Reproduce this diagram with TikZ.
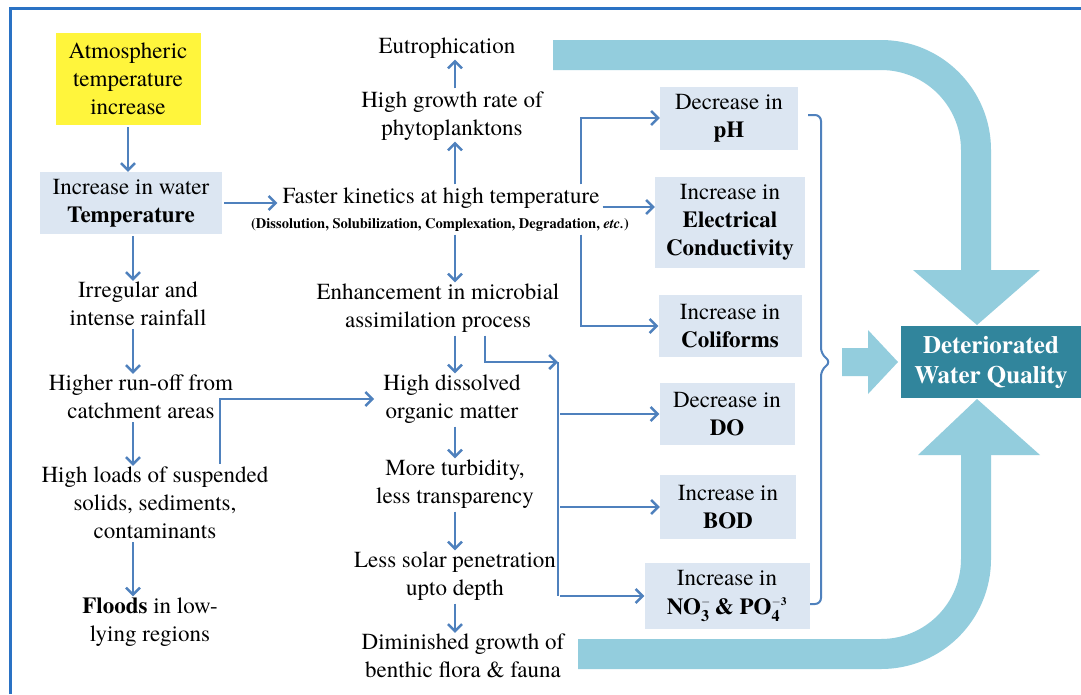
\documentclass[tikz,border=0pt]{standalone}
\usepackage{fontspec}
\setmainfont{TeX Gyre Termes}
\usetikzlibrary{arrows.meta,calc}
\definecolor{lineblue}{HTML}{4F81BD}
\definecolor{frameblue}{HTML}{2A72C4}
\definecolor{bandblue}{HTML}{93CDDD}
\definecolor{boxfill}{HTML}{DCE6F2}
\definecolor{deep}{HTML}{31859C}
\definecolor{yellowbox}{RGB}{255,245,60}
\newcommand{\mainsz}{\fontsize{23}{28}\selectfont}
\begin{document}
\begin{tikzpicture}[x=1pt,y=-1pt,
  txt/.style={align=center,inner sep=1pt,font=\mainsz},
  box/.style={txt,fill=boxfill,inner sep=0pt},
  arr/.style={draw=lineblue,line width=2.5pt,shorten <=2pt,-{Straight Barb[length=7pt,width=14pt,line width=2.5pt]}},
  ln/.style={draw=lineblue,line width=2.5pt},
  band/.style={draw=bandblue,line width=30pt,rounded corners=95pt}]
\useasboundingbox (0,0) rectangle (1081,694);
\fill[white] (0,0) rectangle (1081,694);
% frame
\draw[frameblue,line width=3pt] (10,694) -- (10,8) -- (1081,8);

% big bands
\draw[band] (553,55) -- (976,55) -- (976,272);
\fill[bandblue] (913,270) -- (1040,270) -- (977,325) -- cycle;
\draw[band] (578,654) -- (976,654) -- (976,453);
\fill[bandblue] (918,455) -- (1040,455) -- (977,399) -- cycle;
\fill[bandblue] (842,348) -- (868,348) -- (868,330) -- (898,362) -- (868,394) -- (868,376) -- (842,376) -- cycle;

% left column
\node[box,fill=yellowbox,minimum width=145,minimum height=92] (atm) at (128,79) {Atmospheric\\temperature\\increase};
\node[box,minimum width=182,minimum height=62] (itemp) at (131,203) {Increase in water\\\textbf{Temperature}};
\node[txt] (rain) at (138,304) {Irregular and\\intense rainfall};
\node[txt] (runoff) at (141,397) {Higher run-off from\\catchment areas};
\node[txt] (loads) at (155,503) {High loads of suspended\\solids, sediments,\\contaminants};
\node[txt] (floods) at (150,622) {\textbf{Floods} in low-\\lying regions};

% middle column
\node[txt] (eut) at (447,48) {Eutrophication};
\node[txt] (growth) at (452,116) {High growth rate of\\phytoplanktons};
\node[txt] (faster) at (441,198) {Faster kinetics at high temperature};
\node[txt,font={\fontsize{14.5}{17}\selectfont\bfseries}] (fsub) at (440,225) {(Dissolution, Solubilization, Complexation, Degradation, \textit{etc.})};
\node[txt] (enh) at (438,308) {Enhancement in microbial\\assimilation process};
\node[txt] (hdom) at (452,399) {High dissolved\\organic matter};
\node[txt] (turb) at (455,484) {More turbidity,\\less transparency};
\node[txt] (solar) at (455,576) {Less solar penetration\\upto depth};
\node[txt] (dimin) at (463,656) {Diminished growth of\\benthic flora \& fauna};

% right boxes
\node[box,minimum width=138,minimum height=63] (ph) at (729,118) {Decrease in\\\textbf{pH}};
\node[box,minimum width=150,minimum height=91] (ec) at (730,222) {Increase in\\\textbf{Electrical}\\\textbf{Conductivity}};
\node[box,minimum width=143,minimum height=62] (col) at (730,326) {Increase in\\\textbf{Coliforms}};
\node[box,minimum width=135,minimum height=62] (do) at (727,414) {Decrease in\\\textbf{DO}};
\node[box,minimum width=136,minimum height=64] (bod) at (728,507) {Increase in\\\textbf{BOD}};
\node[box,minimum width=165,minimum height=66] (no3) at (727,596) {Increase in\\[1pt]\textbf{NO}$_{\mathbf{3}}^{\scriptscriptstyle -}$\,\textbf{\& PO}$_{\mathbf{4}}^{\scriptscriptstyle -\mathbf{3}}$};

\node[fill=deep,text=white,font={\fontsize{25}{30}\selectfont\bfseries},align=center,minimum width=180,minimum height=72,inner sep=0pt] (dwq) at (991,362) {Deteriorated\\Water Quality};

% brace
\draw[ln,line width=2pt,rounded corners=6pt] (808,115) -- (821,115) -- (821,354) -- (831,362) -- (821,370) -- (821,604) -- (810,604);

% helper coordinates
\coordinate (lx) at (133,0);
\coordinate (mx) at (455,0);
\coordinate (cx) at (220,0);
\coordinate (fx) at (581,0);
\coordinate (px) at (485,0);
\coordinate (jn) at (558,362);

% left connectors
\draw[arr] (atm.south) -- (atm.south |- itemp.north);
\draw[arr,shorten >=4pt] (itemp.east) -- (itemp.east -| faster.west);
\draw[arr] (itemp.south -| lx) -- (rain.north -| lx);
\draw[arr] (rain.south -| lx) -- (runoff.north -| lx);
\draw[arr] (runoff.south -| lx) -- (loads.north -| lx);
\draw[arr] (loads.south -| lx) -- (floods.north -| lx);
\draw[arr,shorten >=8pt] (loads.north -| cx) |- (hdom.west);

% middle connectors
\draw[arr] (growth.north -| mx) -- (eut.south -| mx);
\draw[arr] (faster.north -| mx) -- (growth.south -| mx);
\draw[arr] (fsub.south -| mx) -- (enh.north -| mx);
\draw[arr] (enh.south -| mx) -- (hdom.north -| mx);
\draw[arr] (hdom.south -| mx) -- (turb.north -| mx);
\draw[arr] (turb.south -| mx) -- (solar.north -| mx);
\draw[arr] (solar.south -| mx) -- (dimin.north -| mx);

% right connectors
\draw[arr] (faster.north -| fx) |- (ph.west);
\draw[arr] ([yshift=-9pt]faster.east) -- ([yshift=-9pt]faster.east -| ec.west);
\draw[arr] (fsub.south -| fx) |- (col.west);
\draw[arr] (enh.south -| px) |- (jn);
\draw[ln] (jn) -- (jn |- no3.west);
\draw[arr] (jn |- do.west) -- (do.west);
\draw[arr] (jn |- bod.west) -- (bod.west);
\draw[arr] (jn |- no3.west) -- (no3.west);
\end{tikzpicture}
\end{document}
